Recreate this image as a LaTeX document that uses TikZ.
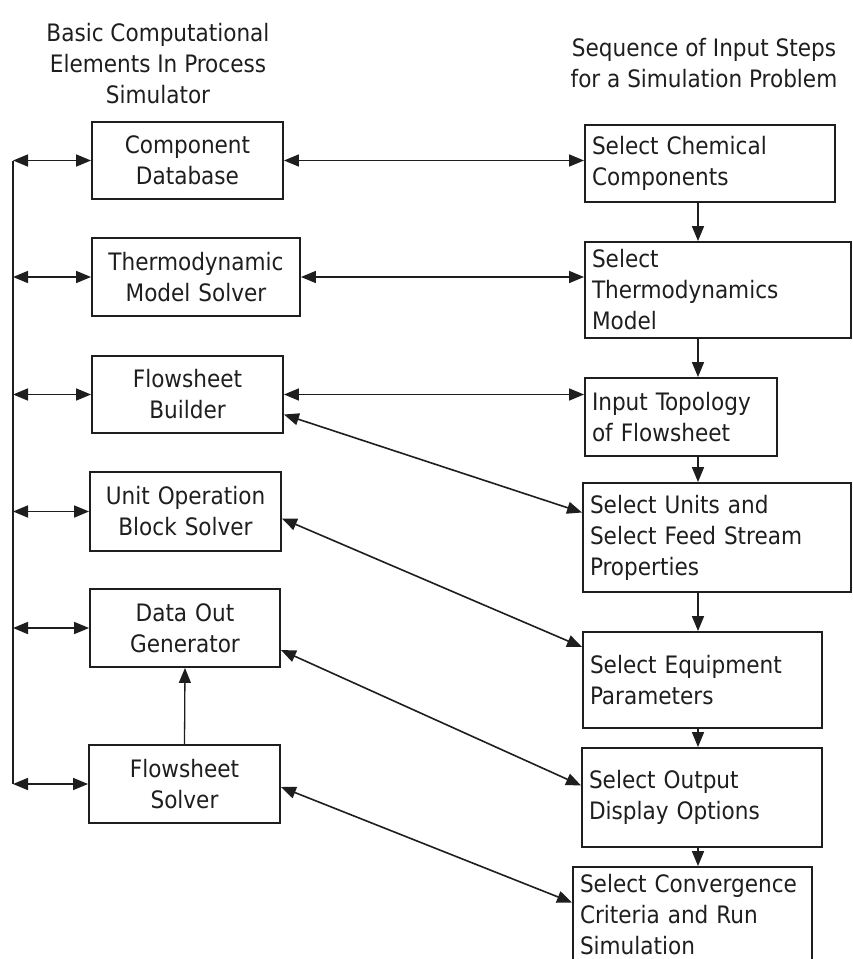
\documentclass[tikz,border=0pt]{standalone}
\usepackage{fontspec}
\setmainfont{DejaVu Sans Condensed}
\usepackage{tikz}
\usetikzlibrary{arrows.meta, positioning, calc}
\definecolor{inkgray}{RGB}{30, 30, 30}

\begin{document}
\begin{tikzpicture}[x=1pt, y=-1pt,
    every node/.style={font=\fontsize{24}{31}\selectfont, text=inkgray},
    >={Triangle[length=15pt, width=12pt]},
    elembox/.style={draw=inkgray, line width=1.9pt, align=center, inner xsep=5pt},
    stepbox/.style={draw=inkgray, line width=1.9pt, align=left, inner xsep=7pt},
    link/.style={draw=inkgray, line width=1.6pt}]
  \useasboundingbox (0,0) rectangle (852,959);

  % Headings
  \node[align=center] (lefthead) at (158,64) {Basic Computational\\Elements In Process\\Simulator};
  \node[align=center] (righthead) at (704,63) {Sequence of Input Steps\\for a Simulation Problem};

  % Computational elements
  \node[elembox, text width=181pt, minimum height=77pt] (comp) at (187.5,160.5) {Component\\Database};
  \node[elembox, text width=198pt, minimum height=78pt] (thermo) at (196,277) {Thermodynamic\\Model Solver};
  \node[elembox, text width=181pt, minimum height=77pt] (fsb) at (187.5,394.5) {Flowsheet\\Builder};
  \node[elembox, text width=181pt, minimum height=79pt] (uop) at (185.5,511.5) {Unit Operation\\Block Solver};
  \node[elembox, text width=180pt, minimum height=78pt] (dog) at (185,628) {Data Out\\Generator};
  \node[elembox, text width=181pt, minimum height=78pt] (fss) at (184.5,784) {Flowsheet\\Solver};

  % Input steps
  \node[stepbox, text width=236pt, minimum height=77pt] (chem) at (710,163.5) {Select Chemical\\Components};
  \node[stepbox, text width=252pt, minimum height=96pt] (tmod) at (718,290) {Select\\Thermodynamics\\Model};
  \node[stepbox, text width=178pt, minimum height=78pt] (topo) at (681,417) {Input Topology\\of Flowsheet};
  \node[stepbox, text width=254pt, minimum height=109pt] (units) at (717,537.5) {Select Units and\\Select Feed Stream\\Properties};
  \node[stepbox, text width=225pt, minimum height=96pt] (equip) at (702.5,680) {Select Equipment\\Parameters};
  \node[stepbox, text width=226pt, minimum height=99pt] (outp) at (702,797.5) {Select Output\\Display Options};
  \node[stepbox, text width=225pt, minimum height=95pt] (conv) at (692.5,914.5) {Select Convergence\\Criteria and Run\\Simulation};

  % Bus on the left
  \coordinate (bus) at (13,0);
  \draw[link] (comp.west -| bus) -- (fss.west -| bus);
  \foreach \n in {comp, thermo, fsb, uop, dog, fss}
    \draw[link, <->] (\n.west -| bus) -- (\n.west);
  \draw[link, line width=1.3pt, ->] (fss.north) -- (dog.south);

  % Links between the columns
  \draw[link, <->] (comp.east) -- (comp.east -| chem.west);
  \draw[link, <->] (thermo.east) -- (thermo.east -| tmod.west);
  \draw[link, <->] (fsb.east) -- (fsb.east -| topo.west);
  \draw[link, <->] ([yshift=-20pt]fsb.east) -- ([yshift=25pt]units.west);
  \draw[link, <->] ([yshift=-7pt]uop.east) -- ([yshift=33pt]equip.west);
  \draw[link, <->] ([yshift=-22pt]dog.east) -- ([yshift=12pt]outp.west);
  \draw[link, <->] ([yshift=-3pt]fss.east) -- ([yshift=12pt]conv.west);

  % Sequence of steps
  \coordinate (spine) at (698,0);
  \foreach \a/\b in {chem/tmod, tmod/topo, topo/units, units/equip, equip/outp, outp/conv}
    \draw[link, ->] (\a.south -| spine) -- (\b.north -| spine);
\end{tikzpicture}
\end{document}
